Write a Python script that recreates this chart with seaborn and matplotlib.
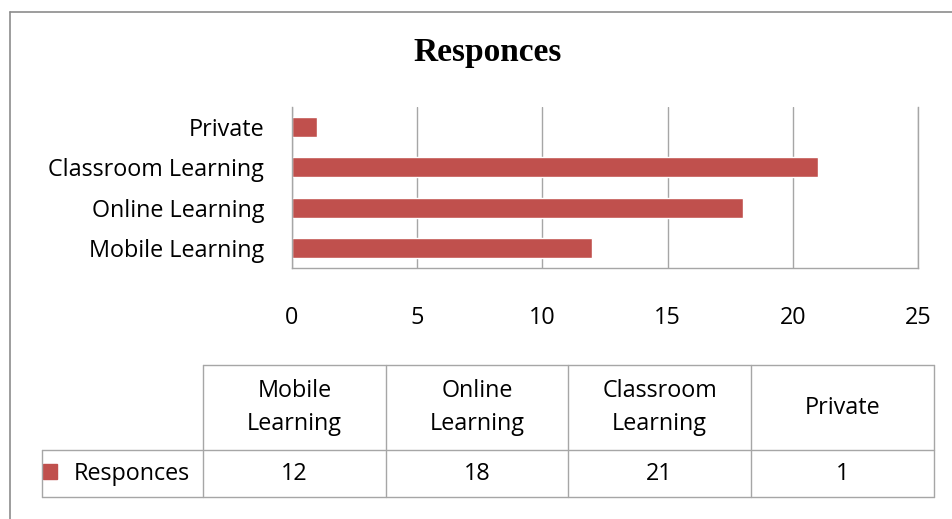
import matplotlib.pyplot as plt
import seaborn as sns
import pandas as pd
from matplotlib.lines import Line2D
from matplotlib.patches import Rectangle

# data (table order, as in the data table under the chart)
categories = ['Mobile Learning', 'Online Learning', 'Classroom Learning', 'Private']
table_headers = ['Mobile\nLearning', 'Online\nLearning', 'Classroom\nLearning', 'Private']
responses = [12, 18, 21, 1]
series_name = 'Responces'
x_ticks = [0, 5, 10, 15, 20, 25]

BAR_COLOR = '#C0504D'
GRID_COLOR = '#A6A6A6'
LABEL_FONT = ['Open Sans', 'DejaVu Sans']
FS = 16.8

W, H = 952, 519


def fx(px):
    return px / W


def fy(py):
    return 1 - py / H


def main():
    sns.set_theme(style='white')
    plt.rcParams['font.family'] = LABEL_FONT
    plt.rcParams['text.color'] = 'black'
    plt.rcParams['xtick.color'] = 'black'
    plt.rcParams['ytick.color'] = 'black'

    df = pd.DataFrame({'Category': categories, 'Value': responses})
    bar_order = categories[::-1]  # excel draws the first category at the bottom

    fig = plt.figure(figsize=(W / 100, H / 100), dpi=100)
    ax = fig.add_axes([fx(292), fy(268), fx(918) - fx(292), fy(107) - fy(268)])

    sns.barplot(data=df, x='Value', y='Category', order=bar_order, orient='h',
                color=BAR_COLOR, width=0.5, saturation=1, ax=ax)

    ax.set_xlim(0, 25)
    ax.set_ylim(3.5, -0.5)
    ax.set_xticks(x_ticks)
    ax.set_xlabel('')
    ax.set_ylabel('')
    ax.grid(axis='x', color=GRID_COLOR, linewidth=1)
    ax.set_axisbelow(True)
    ax.spines['top'].set_visible(False)
    for side in ['left', 'bottom', 'right']:
        ax.spines[side].set_color(GRID_COLOR)
        ax.spines[side].set_linewidth(1)
    ax.tick_params(axis='x', length=0, pad=27, labelsize=FS)
    ax.tick_params(axis='y', length=0, pad=20, labelsize=FS)

    fig.text(fx(488), fy(53), series_name, ha='center', va='center',
             fontsize=24, fontweight='bold', family='Liberation Serif')

    # chart border (only top/left show in the crop)
    fig.add_artist(Line2D([fx(10), fx(952)], [fy(12), fy(12)], color='#8C8C8C', lw=1.2))
    fig.add_artist(Line2D([fx(10), fx(10)], [fy(12), fy(519)], color='#8C8C8C', lw=1.2))

    # data table
    col_edges = [203, 386, 568, 751, 934]
    row_top, row_mid, row_bot = 365, 450, 497
    tc = '#A6A6A6'
    lines = [
        ([203, 934], [row_top, row_top]),
        ([42, 934], [row_mid, row_mid]),
        ([42, 934], [row_bot, row_bot]),
        ([42, 42], [row_mid, row_bot]),
    ]
    for xe in col_edges:
        lines.append(([xe, xe], [row_top, row_bot]))
    for xs, ys in lines:
        fig.add_artist(Line2D([fx(v) for v in xs], [fy(v) for v in ys], color=tc, lw=1))

    for i, (head, val) in enumerate(zip(table_headers, responses)):
        cx = (col_edges[i] + col_edges[i + 1]) / 2
        fig.text(fx(cx), fy((row_top + row_mid) / 2), head, ha='center', va='center',
                 fontsize=FS, linespacing=1.45)
        fig.text(fx(cx), fy((row_mid + row_bot) / 2), str(val), ha='center', va='center',
                 fontsize=FS)

    fig.add_artist(Rectangle((fx(43), fy(479)), fx(57) - fx(43), fy(464) - fy(479),
                             transform=fig.transFigure, color=BAR_COLOR))
    fig.text(fx(74), fy((row_mid + row_bot) / 2), series_name, ha='left', va='center',
             fontsize=FS)

    fig.savefig('out.png', dpi=100)
    plt.close(fig)


if __name__ == '__main__':
    main()
